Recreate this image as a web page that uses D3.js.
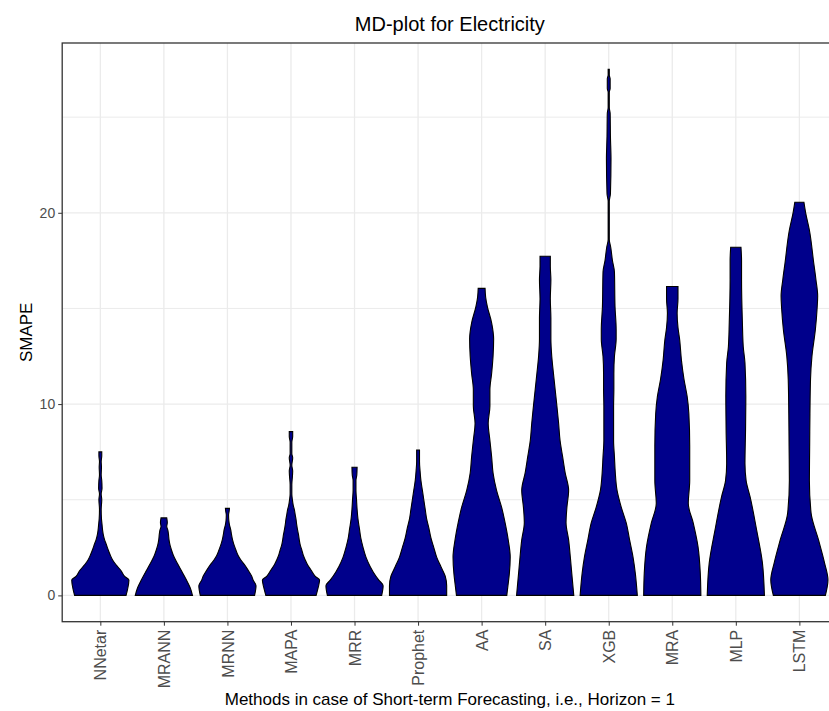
<!DOCTYPE html>
<html>
<head>
<meta charset="utf-8">
<script src="https://cdn.jsdelivr.net/npm/d3@7"></script>
<style>
  body { margin: 0; background: #fff; }
  svg { display: block; font-family: "Liberation Sans", Arial, sans-serif; }
</style>
</head>
<body>
<div id="chart"></div>
<script>
// methods in plot order
const methods = ["NNetar", "MRANN", "MRNN", "MAPA", "MRR", "Prophet", "AA", "SA", "XGB", "MRA", "MLP", "LSTM"]

// estimated density profiles: [SMAPE, relative width]
const NNetar = [[0,0.9],[0.3,0.95],[0.8,1.0],[1.0,0.85],[1.3,0.72],[1.6,0.55],[1.85,0.43],[2.1,0.35],[2.4,0.27],[2.7,0.2],[2.9,0.15],[3.2,0.1],[3.4,0.08],[3.7,0.06],[4.0,0.04],[4.5,0.03],[5.0,0.05],[5.3,0.03],[5.6,0.06],[6.0,0.05],[6.3,0.03],[6.7,0.04],[7.0,0.03],[7.3,0.05],[7.5,0.05]]
const MRANN = [[0,1.0],[0.4,0.92],[0.8,0.79],[1.0,0.72],[1.3,0.61],[1.6,0.5],[1.85,0.41],[2.1,0.33],[2.4,0.26],[2.6,0.22],[2.9,0.18],[3.2,0.16],[3.4,0.14],[3.6,0.1],[3.8,0.12],[4.05,0.1]]
const MRNN = [[0,0.95],[0.5,1.0],[0.8,0.9],[1.0,0.85],[1.3,0.73],[1.6,0.6],[1.85,0.47],[2.1,0.37],[2.4,0.29],[2.6,0.24],[2.9,0.18],[3.2,0.14],[3.4,0.12],[3.7,0.07],[3.9,0.05],[4.2,0.04],[4.4,0.06],[4.55,0.07]]
const MAPA = [[0,0.88],[0.4,0.95],[0.8,1.0],[1.0,0.85],[1.33,0.7],[1.6,0.58],[1.85,0.5],[2.1,0.43],[2.37,0.38],[2.6,0.33],[2.9,0.29],[3.2,0.26],[3.42,0.23],[3.7,0.2],[3.94,0.18],[4.2,0.15],[4.47,0.12],[4.7,0.08],[5.0,0.05],[5.3,0.03],[5.8,0.03],[6.2,0.05],[6.5,0.06],[6.8,0.03],[7.2,0.06],[7.4,0.03],[8.0,0.03],[8.3,0.06],[8.56,0.06]]
const MRR = [[0,0.95],[0.5,1.0],[0.8,0.85],[1.0,0.75],[1.5,0.55],[2.0,0.4],[2.5,0.3],[3.0,0.22],[3.5,0.17],[4.0,0.12],[4.5,0.09],[5.0,0.07],[5.5,0.05],[6.0,0.05],[6.3,0.08],[6.7,0.09]]
const Prophet = [[0,1.0],[0.5,1.0],[1.0,0.95],[1.5,0.8],[2.0,0.65],[2.5,0.55],[3.0,0.45],[3.5,0.38],[4.0,0.3],[4.5,0.25],[5.0,0.2],[5.5,0.15],[6.0,0.1],[6.5,0.07],[7.0,0.05],[7.6,0.05]]
const AA = [[0,0.88],[0.5,0.92],[1.15,0.97],[2.0,1.0],[2.9,0.93],[3.8,0.82],[4.6,0.7],[5.5,0.52],[6.4,0.4],[7.25,0.35],[8.1,0.29],[9.0,0.23],[9.9,0.29],[10.75,0.29],[11.6,0.35],[12.5,0.4],[13.4,0.42],[14.25,0.35],[15.1,0.2],[15.6,0.14],[16.05,0.12]]
const SA = [[0,1.0],[1.15,0.93],[2.0,0.88],[2.9,0.82],[3.8,0.73],[4.6,0.76],[5.5,0.82],[6.4,0.7],[7.25,0.61],[8.1,0.52],[9.0,0.47],[9.9,0.41],[10.75,0.35],[11.6,0.29],[12.5,0.23],[13.4,0.2],[14.5,0.2],[15.5,0.18],[16.5,0.2],[17.2,0.18],[17.73,0.18]]
const XGB = [[0,1.0],[1.15,0.93],[2.0,0.85],[2.9,0.73],[3.8,0.61],[4.6,0.44],[5.5,0.29],[6.4,0.23],[7.25,0.2],[8.1,0.17],[9.0,0.17],[9.9,0.17],[10.75,0.18],[11.6,0.18],[12.5,0.2],[13.4,0.26],[13.9,0.26],[15.1,0.22],[16.9,0.2],[17.5,0.13],[18.2,0.07],[18.6,0.02],[20.6,0.02],[21.0,0.06],[22.8,0.08],[24.0,0.06],[25.2,0.05],[25.5,0.02],[26.3,0.02],[26.5,0.05],[27.0,0.05],[27.2,0.02],[27.5,0.02]]
const MRA = [[0,1.0],[1.15,0.98],[2.55,0.9],[3.8,0.73],[4.8,0.56],[6.0,0.61],[7.8,0.61],[9.5,0.58],[10.4,0.52],[11.3,0.41],[12.3,0.32],[13.35,0.26],[14.0,0.2],[14.75,0.17],[15.5,0.2],[16.15,0.2]]
const MLP = [[0,1.0],[1.7,0.93],[3.4,0.73],[5.15,0.5],[6.0,0.36],[6.9,0.32],[8.65,0.34],[10.4,0.35],[12.15,0.32],[13.0,0.26],[14.25,0.23],[16.5,0.2],[17.5,0.2],[18.2,0.18]]
const LSTM = [[0,0.91],[0.8,1.0],[1.7,0.88],[2.9,0.67],[4.3,0.41],[6.0,0.35],[7.8,0.36],[9.5,0.37],[11.3,0.39],[12.5,0.44],[13.9,0.56],[15.0,0.62],[15.65,0.64],[16.5,0.58],[17.4,0.5],[19.1,0.35],[20.0,0.22],[20.55,0.16]]

const profiles = [NNetar, MRANN, MRNN, MAPA, MRR, Prophet, AA, SA, XGB, MRA, MLP, LSTM]
const yTicks = [0, 10, 20]
const yMinor = [5, 15, 25]

const W = 829, H = 711
const panel = {left: 62.2, top: 43, width: 775.3, height: 578.7}

const svg = d3.select("#chart").append("svg")
  .attr("width", W)
  .attr("height", H)

const x = d3.scalePoint()
  .domain(methods)
  .range([panel.left, panel.left + panel.width])
  .padding(0.6)

// ggplot-like 5% expansion around [0, max]
const yMax = d3.max(profiles, p => d3.max(p, d => d[0]))
const pad = yMax * 0.05
const y = d3.scaleLinear()
  .domain([-pad, yMax + pad])
  .range([panel.top + panel.height, panel.top])

const half = d3.scaleLinear().domain([0, 1]).range([0, x.step() * 0.45])

const g = svg.append("g")

// grid
g.selectAll(".minor").data(yMinor).join("line")
  .attr("x1", panel.left).attr("x2", panel.left + panel.width)
  .attr("y1", d => y(d)).attr("y2", d => y(d))
  .attr("stroke", "#ebebeb").attr("stroke-width", 1)
g.selectAll(".major").data(yTicks).join("line")
  .attr("x1", panel.left).attr("x2", panel.left + panel.width)
  .attr("y1", d => y(d)).attr("y2", d => y(d))
  .attr("stroke", "#ebebeb").attr("stroke-width", 1.3)
g.selectAll(".vgrid").data(methods).join("line")
  .attr("x1", d => x(d)).attr("x2", d => x(d))
  .attr("y1", panel.top).attr("y2", panel.top + panel.height)
  .attr("stroke", "#ebebeb").attr("stroke-width", 1.3)

// mirrored density shapes
methods.forEach((m, i) => {
  const cx = x(m)
  const area = d3.area()
    .y(d => y(d[0]))
    .x0(d => cx - half(d[1]))
    .x1(d => cx + half(d[1]))
    .curve(d3.curveMonotoneY)
  g.append("path")
    .datum(profiles[i])
    .attr("d", area)
    .attr("fill", "#00008b")
    .attr("stroke", "#000")
    .attr("stroke-width", 1.1)
})

// panel border
g.append("rect")
  .attr("x", panel.left).attr("y", panel.top)
  .attr("width", panel.width).attr("height", panel.height)
  .attr("fill", "none").attr("stroke", "#333").attr("stroke-width", 1.3)

// y axis
const yAxis = svg.append("g")
  .attr("transform", `translate(${panel.left},0)`)
  .call(d3.axisLeft(y).tickValues(yTicks).tickSize(4).tickPadding(3))
yAxis.select(".domain").remove()
yAxis.selectAll("line").attr("stroke", "#333")
yAxis.selectAll("text").attr("fill", "#4d4d4d").style("font-size", "14px")
  .style("font-family", "Liberation Sans, Arial, sans-serif")

// x axis
const xAxis = svg.append("g")
  .attr("transform", `translate(0,${panel.top + panel.height})`)
  .call(d3.axisBottom(x).tickSize(4).tickPadding(2))
xAxis.select(".domain").remove()
xAxis.selectAll("line").attr("stroke", "#333")
xAxis.selectAll("text")
  .attr("fill", "#4d4d4d")
  .style("font-size", "16px")
  .style("font-family", "Liberation Sans, Arial, sans-serif")
  .attr("transform", "rotate(-90)")
  .attr("text-anchor", "end")
  .attr("x", -8)
  .attr("y", 0)
  .attr("dy", "0.35em")

// titles
svg.append("text")
  .attr("x", panel.left + panel.width / 2)
  .attr("y", 31)
  .attr("text-anchor", "middle")
  .style("font-size", "20px")
  .text("MD-plot for Electricity")

svg.append("text")
  .attr("transform", `translate(32,${panel.top + panel.height / 2}) rotate(-90)`)
  .attr("text-anchor", "middle")
  .style("font-size", "17px")
  .text("SMAPE")

svg.append("text")
  .attr("x", panel.left + panel.width / 2)
  .attr("y", 705)
  .attr("text-anchor", "middle")
  .style("font-size", "17px")
  .text("Methods in case of Short-term Forecasting, i.e., Horizon = 1")
</script>
</body>
</html>
